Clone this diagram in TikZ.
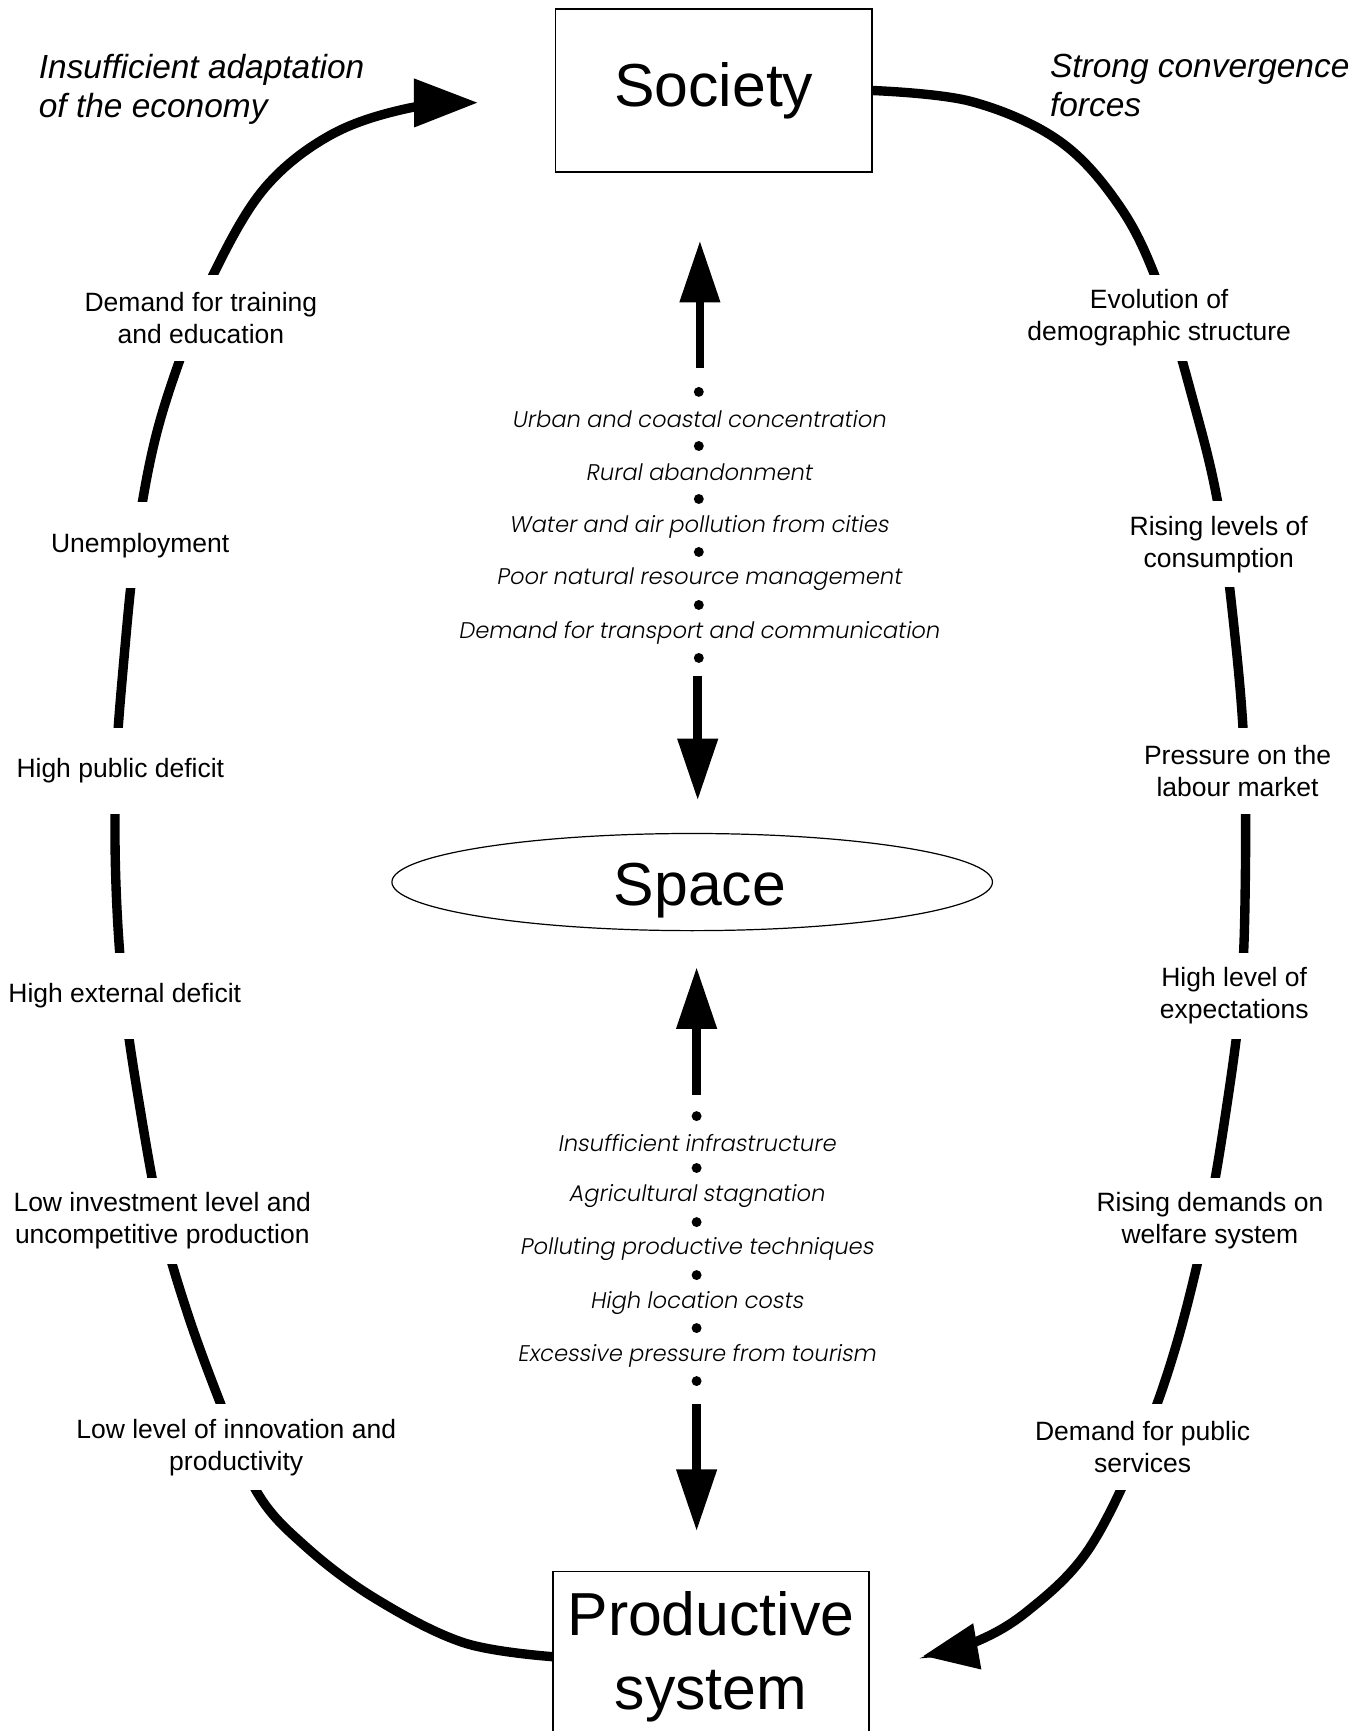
\documentclass[tikz,border=0pt]{standalone}
\usepackage{fontspec}
\setmainfont{Liberation Sans}
\IfFontExistsTF{Poppins Light}{\newfontfamily\gfont[FakeSlant=0.17]{Poppins Light}}{\newfontfamily\gfont[FakeSlant=0.17]{Poppins}}
\usetikzlibrary{arrows.meta,shapes.geometric,backgrounds}
\begin{document}
\begin{tikzpicture}[x=1pt,y=-1pt,
  lab/.style={font=\fontsize{24}{29}\selectfont, align=center, fill=white, inner xsep=3pt, inner ysep=0pt, minimum height=78pt},
  headtxt/.style={font=\fontsize{30.3}{35}\selectfont\itshape, align=left, anchor=north west, inner sep=0pt},
  bigbox/.style={draw, line width=1.3pt, font=\fontsize{55}{67}\selectfont, align=center, inner sep=0pt},
  bigtxt/.style={font=\fontsize{55}{67}\selectfont, inner sep=0pt},
  dotnode/.style={circle, fill=black, inner sep=0pt, minimum size=9pt},
  itxt/.style={font=\gfont\fontsize{20.5}{22}\selectfont, inner sep=0pt},
  bigarr/.style={line width=8pt, -{Triangle[length=56pt,width=35pt]}},
  curve/.style={line width=8.5pt}
]
\useasboundingbox (0,0) rectangle (1239,1568);
\clip (0,0) rectangle (1239,1568);

% main boxes
\node[bigbox, minimum width=287pt, minimum height=148pt] (soc) at (646.5,82) {Society};
\node[draw, ellipse, line width=1.1pt, minimum width=544pt, minimum height=88pt] (space) at (627,799) {};
\node[bigtxt, anchor=base] (spacetxt) at (634,820) {Space};
\node[bigbox, minimum width=286pt, minimum height=154pt, anchor=north] (prod) at (644,1423) {Productive\\system};

% headings
\node[headtxt] (hl) at (35,49) {Insufficient adaptation\\of the economy};
\node[headtxt] (hr) at (951,49) {Strong convergence\\forces};

% left labels
\node[lab] (l1) at (182,288) {Demand for training\\and education};
\node[lab] (l2) at (127,494) {Unemployment};
\node[lab] (l3) at (109,698) {High public deficit};
\node[lab] (l4) at (113,902) {High external deficit};
\node[lab] (l5) at (147,1106) {Low investment level and\\uncompetitive production};
\node[lab] (l6) at (214,1311) {Low level of innovation and\\productivity};

% right labels
\node[lab] (r1) at (1050,288) {Evolution of\\demographic structure};
\node[lab] (r2) at (1104,493) {Rising levels of\\consumption};
\node[lab] (r3) at (1121,698) {Pressure on the\\labour market};
\node[lab] (r4) at (1118,902) {High level of\\expectations};
\node[lab] (r5) at (1096,1106) {Rising demands on\\welfare system};
\node[lab] (r6) at (1035,1311) {Demand for public\\services};

% upper centre list
\node[dotnode] (ua0) at (633,355) {};
\node[itxt] (ut1) at (633,380) {Urban and coastal concentration};
\node[dotnode] (ua1) at (633,404) {};
\node[itxt] (ut2) at (633,428) {Rural abandonment};
\node[dotnode] (ua2) at (633,452) {};
\node[itxt] (ut3) at (633,477) {Water and air pollution from cities};
\node[dotnode] (ua3) at (633,500) {};
\node[itxt] (ut4) at (633,525) {Poor natural resource management};
\node[dotnode] (ua4) at (633,548) {};
\node[itxt] (ut5) at (633,573) {Demand for transport and communication};
\node[dotnode] (ua5) at (633,596) {};

% lower centre list
\node[dotnode] (la0) at (631,1011) {};
\node[itxt] (lt1) at (631,1035) {Insufficient infrastructure};
\node[dotnode] (la1) at (631,1058) {};
\node[itxt] (lt2) at (631,1083) {Agricultural stagnation};
\node[dotnode] (la2) at (631,1107) {};
\node[itxt] (lt3) at (631,1131) {Polluting productive techniques};
\node[dotnode] (la3) at (631,1155) {};
\node[itxt] (lt4) at (631,1180) {High location costs};
\node[dotnode] (la4) at (631,1203) {};
\node[itxt] (lt5) at (631,1228) {Excessive pressure from tourism};
\node[dotnode] (la5) at (631,1251) {};

% centre arrows
\coordinate (uAs) at (634,333); \coordinate (uAe) at (634,218);
\coordinate (uBs) at (632,612); \coordinate (uBe) at (632,725);
\coordinate (lAs) at (631,992); \coordinate (lAe) at (631,876);
\coordinate (lBs) at (631,1272); \coordinate (lBe) at (631,1387);
\draw[bigarr] (uAs) -- (uAe);
\draw[bigarr] (uBs) -- (uBe);
\draw[bigarr] (lAs) -- (lAe);
\draw[bigarr] (lBs) -- (lBe);

% big loop curves (behind the white label boxes)
\coordinate (lend) at (433,93);
\coordinate (rend) at (836,1500);
\begin{scope}[on background layer]
\draw[curve, -{Triangle[length=58pt,width=42pt]}] plot[smooth, tension=0.6] coordinates {
  (prod.west) (420,1488) (340,1448) (277,1401) (233,1352) (200,1272) (170,1190)
  (146,1107) (127,1005) (112,902) (105,800) (105,698) (112,600) (123,494) (140,400)
  (165,320) (195,245) (240,170) (300,122) (370,98) (lend)};
\draw[curve, -{Triangle[length=50pt,width=40pt]}] plot[smooth, tension=0.6] coordinates {
  (soc.east) (880,92) (960,128) (1015,188) (1050,260) (1080,360) (1103,455)
  (1118,570) (1127,680) (1128,800) (1124,902) (1110,1010) (1093,1107) (1065,1220)
  (1032,1312) (985,1405) (930,1460) (882,1488) (rend)};
\end{scope}
\end{tikzpicture}
\end{document}
